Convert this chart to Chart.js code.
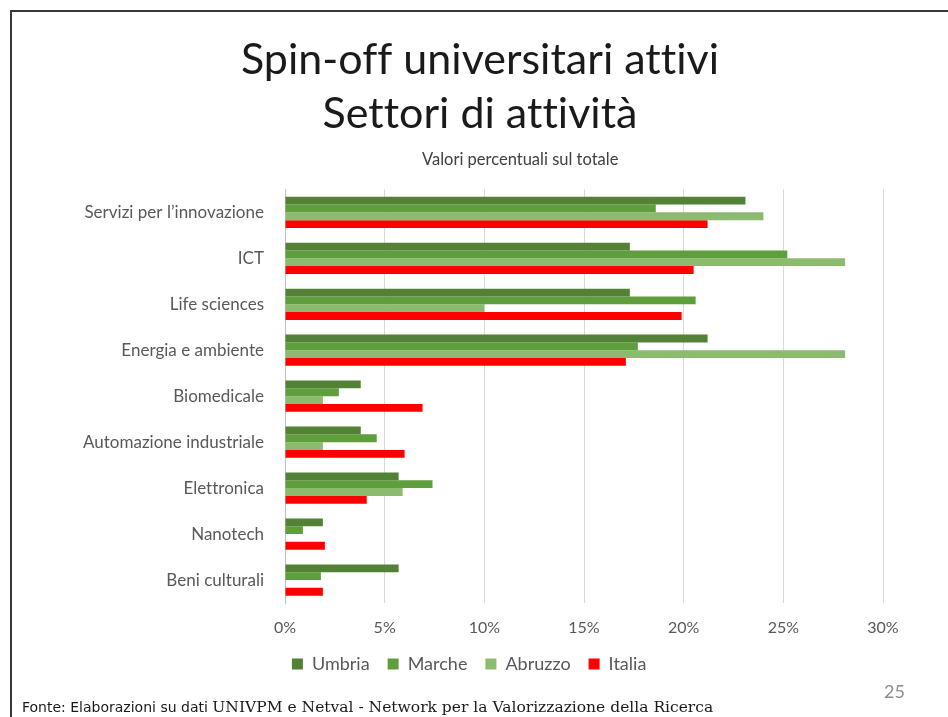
<!DOCTYPE html>
<html><head><meta charset="utf-8">
<script src="https://cdn.jsdelivr.net/npm/chart.js@4.4.1/dist/chart.umd.min.js"></script>
<style>
html,body{margin:0;padding:0;background:#fff;}
#wrap{position:relative;width:948px;height:717px;overflow:hidden;background:#fff;}
#frame{position:absolute;left:10px;top:10px;width:980px;height:760px;border-left:2px solid #383838;border-top:2px solid #383838;}
#c{position:absolute;left:0;top:0;}
.sub{position:absolute;left:422px;top:149px;font:16.5px Lato,sans-serif;color:#404040;white-space:nowrap;line-height:20px;}
.foot{position:absolute;left:22px;top:698px;white-space:nowrap;color:#1a1a1a;line-height:18px;}
.foot .a{font:14px "DejaVu Sans",sans-serif;}
.foot .b{font:15.5px "DejaVu Serif",serif;}
.pg{position:absolute;left:884px;top:680px;font:18px Lato,sans-serif;color:#8c8c8c;}
</style></head>
<body>
<div id="wrap">
<canvas id="c" width="948" height="717"></canvas>
<div id="frame"></div>
<div class="sub">Valori percentuali sul totale</div>
<div class="pg">25</div>
<div class="foot"><span class="a">Fonte: Elaborazioni su dati </span><span class="b">UNIVPM e Netval - Network per la Valorizzazione della Ricerca</span></div>
</div>
<script>
const categories = ["Servizi per l\u2019innovazione","ICT","Life sciences","Energia e ambiente","Biomedicale","Automazione industriale","Elettronica","Nanotech","Beni culturali"];
const umbria  = [23.1, 17.3, 17.3, 21.2, 3.8, 3.8, 5.7, 1.9, 5.7];
const marche  = [18.6, 25.2, 20.6, 17.7, 2.7, 4.6, 7.4, 0.9, 1.8];
const abruzzo = [24.0, 28.1, 10.0, 28.1, 1.9, 1.9, 5.9, 0.0, 0.0];
const italia  = [21.2, 20.5, 19.9, 17.1, 6.9, 6.0, 4.1, 2.0, 1.9];
const seriesNames = ["Umbria","Marche","Abruzzo","Italia"];
const xTickValues = [0,5,10,15,20,25,30];
const titleLines = ["Spin-off universitari attivi","Settori di attivit\u00e0"];

const colors = ["#538135","#5e9e3c","#8cbb6f","#ff0000"];
const series = [umbria, marche, abruzzo, italia];

const tweaks = {
  id: 'tweaks',
  beforeDraw(chart) { chart.ctx.letterSpacing = '0.01px'; },
  afterLayout(chart) { if (chart.legend) { chart.legend.left -= 11; chart.legend.right -= 11; } }
};

new Chart(document.getElementById('c'), {
  type: 'bar',
  data: {
    labels: categories,
    datasets: series.map((d,i)=>({
      label: seriesNames[i], data: d, backgroundColor: colors[i], borderWidth: 0,
      categoryPercentage: 0.68, barPercentage: 1.0
    }))
  },
  plugins: [tweaks],
  options: {
    indexAxis: 'y', responsive: false, animation: false,
    layout: {padding: {left: 16, right: 4, top: 0, bottom: 34}},
    plugins: {
      title: {display: true, text: titleLines, color: '#1a1a1a',
        font: {family: 'Lato', size: 43, weight: 'normal', lineHeight: 1.26},
        padding: {top: 33, bottom: 48}},
      legend: {position: 'bottom', labels: {font: {family: 'Lato', size: 18}, color: '#595959', boxWidth: 11, boxHeight: 11, padding: 18}},
      tooltip: {enabled: false}
    },
    scales: {
      x: {min: 0, max: 30, afterBuildTicks: s => { s.ticks = xTickValues.map(v => ({value: v})); },
        ticks: {callback: v => v + '%', font: {family: 'Lato', size: 16}, color: '#595959', padding: 15},
        grid: {color: '#d9d9d9', drawTicks: false}, border: {display: false},
        afterFit: s => { s.height = 34; }},
      y: {ticks: {font: {family: 'Lato', size: 17}, color: '#595959', padding: 21},
        grid: {display: false, drawTicks: false}, border: {color: '#bfbfbf'},
        afterFit: s => { s.width = 269; }},
      y2: {type: 'category', position: 'right', labels: categories,
        ticks: {display: false}, grid: {display: false, drawTicks: false}, border: {display: false},
        afterFit: s => { s.width = 61; }}
    }
  }
});
</script>
</body></html>
